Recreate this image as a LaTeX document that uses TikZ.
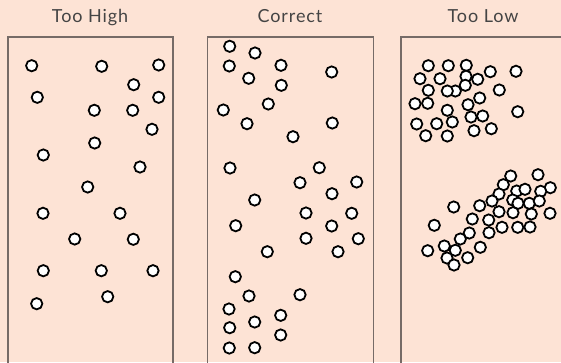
\documentclass[tikz,border=0pt]{standalone}
\usepackage{fontspec}
\setsansfont{Lato}[LetterSpace=5]
\definecolor{peach}{HTML}{FDE3D5}
\definecolor{framegray}{HTML}{766B67}
\definecolor{titlegray}{HTML}{444444}
\begin{document}
\begin{tikzpicture}[x=1pt, y=-1pt,
    ball/.style={draw, circle, fill=white, line width=1.8pt, minimum size=11.3pt, inner sep=0pt},
    panel/.style={draw=framegray, line width=1.2pt},
    title/.style={font=\sffamily\fontsize{18}{20}\selectfont, text=titlegray, anchor=base}]
  \fill[peach] (0,0) rectangle (561,362);
  \useasboundingbox (0,0) rectangle (561,362);
  \clip (0,0) rectangle (561,362);

  % titles
  \node[title] (high) at (90,22.5) {Too High};
  \node[title] (correct) at (290,22.5) {Correct};
  \node[title] (low) at (483,22.5) {Too Low};

  % panels, open at the bottom
  \draw[panel] (8,370) |- (173,37) -- (173,370);
  \draw[panel] (207.5,370) |- (373.5,37) -- (373.5,370);
  \draw[panel] (401,370) |- (570,37) -- (570,370);

  % too high
  \foreach \x/\y [count=\i] in {31.7/65.7, 101.7/66.3, 158.7/65, 133.7/84.7, 37.3/97.3,
      158.7/97.3, 94.3/110.3, 132.7/110.3, 152/129.3, 94.7/143, 43.3/155, 140/167,
      87.7/187, 43/213.3, 120/213.3, 74.7/239, 133.3/239.3, 43.3/270.7, 101.3/270.7,
      153/270.7, 107.7/296.7, 36.7/303.7}
    \node[ball] (h\i) at (\x,\y) {};

  % correct
  \foreach \x/\y [count=\i] in {229.7/46.3, 255/53, 229.3/66, 281/65.3, 331.7/72,
      248.7/78.3, 281.3/85.3, 268.3/104, 223.3/110, 247/123.7, 332.3/123, 293/136.7,
      230/168, 319.3/167.7, 300/182.7, 356.7/182, 332/193.7, 254.7/200, 306/213,
      351.7/213.3, 235.7/225.7, 331.7/226, 306/238.3, 358.3/238.7, 267.3/251.7,
      338/251.7, 235.3/276.7, 249/296, 300/294.7, 229/309, 254.7/322, 280.7/315.3,
      229.7/327.7, 280.7/335, 229.3/348, 254.7/347.7}
    \node[ball] (c\i) at (\x,\y) {};

  % too low, upper group
  \foreach \x/\y [count=\i] in {428.3/65.7, 448.3/65.7, 466.3/65.3, 490.3/71.7,
      516/71.3, 420/78.7, 440/78.7, 466/76.3, 477.7/79.3, 428.3/90.3, 455.3/91,
      447.3/91, 465.3/85.3, 499.3/90, 479.7/98, 415/103.7, 427.7/103.3, 468/104.7,
      447.3/110.3, 517.7/111.7, 471/117, 482.7/116, 416.7/124, 436.7/123.7,
      452.3/122, 491.3/128.7, 474/130.7, 425.7/135.7, 447.3/136}
    \node[ball] (u\i) at (\x,\y) {};

  % too low, lower group
  \foreach \x/\y [count=\i] in {510.7/176, 538/174.7, 503.3/184.7, 550.3/187.7,
      499/194, 516.7/191, 525/189.3, 540.7/191.3, 492/201, 512.7/200, 518/203.3,
      529.3/203.3, 539.3/201, 453.7/207, 479.7/205.7, 499/211.7, 513/212.7,
      531.3/214, 550/213.3, 472.3/219, 488.7/220, 434.3/225.3, 502/227.3,
      517.7/227.3, 530/227, 489/232.7, 469.3/233, 460.3/239, 444.3/246,
      480.3/247.3, 427.7/250.7, 455.3/250.3, 447/258, 467.7/257.7, 454/265}
    \node[ball] (w\i) at (\x,\y) {};
\end{tikzpicture}
\end{document}
